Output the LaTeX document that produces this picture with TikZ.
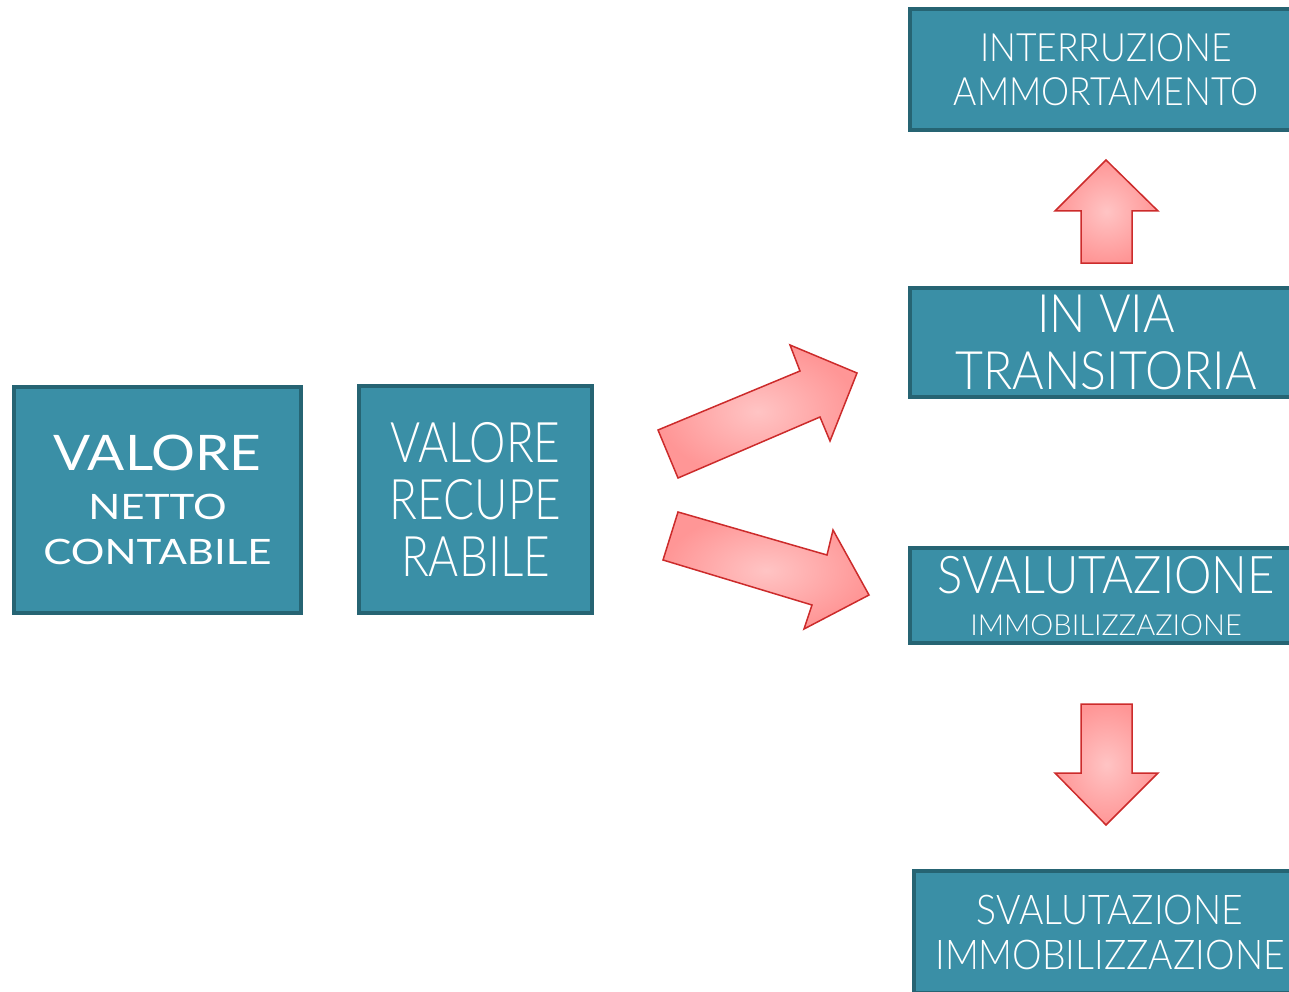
\documentclass[tikz,border=0pt]{standalone}
\usepackage{fontspec}
\setmainfont{Lato Light}[BoldFont=Lato]
\newfontfamily\fwide{Lato}[FakeStretch=1.12]
\newfontfamily\fwider{Lato}[FakeStretch=1.2]
\newfontfamily\fnarrow{Lato Light}[FakeStretch=0.82]
\newfontfamily\fright{Lato Light}[FakeStretch=0.91]
\newfontfamily\fplain{Lato Light}
\definecolor{tealfill}{RGB}{58,143,166}
\definecolor{tealdark}{RGB}{38,100,115}
\definecolor{pinkin}{RGB}{255,196,196}
\definecolor{pinkout}{RGB}{255,150,150}
\definecolor{arrowred}{RGB}{204,43,43}
\begin{document}
\begin{tikzpicture}[x=1pt,y=-1pt,
  tbox/.style={rectangle,draw=tealdark,line width=4pt,fill=tealfill,text=white,align=center,inner sep=0pt},
  barrow/.style={draw=arrowred,line width=1.5pt,inner color=pinkin,outer color=pinkout,line join=miter}]
\useasboundingbox (0,0) rectangle (1289,992);
\clip (0,0) rectangle (1289,992);
\node[tbox,minimum width=287pt,minimum height=226pt,font=\fontsize{35}{45}\selectfont\fwider] (vnc) at (157.5,500)
  {{\fontsize{49}{49}\selectfont\fwide VALORE}\\[4pt] NETTO\\ CONTABILE};
\node[tbox,minimum width=233pt,minimum height=227pt,font=\fontsize{56}{57}\selectfont\fnarrow] (vr) at (475.5,499.5)
  {VALORE\\ RECUPE\\ RABILE};
\node[tbox,minimum width=392pt,minimum height=121pt,font=\fontsize{39}{44}\selectfont\fright] (ia) at (1106,69.5)
  {INTERRUZIONE\\ AMMORTAMENTO};
\node[tbox,minimum width=392pt,minimum height=109pt,font=\fontsize{53}{57}\selectfont\fright] (vt) at (1106,342.5)
  {IN VIA\\ TRANSITORIA};
\node[tbox,minimum width=392pt,minimum height=95pt,font=\fontsize{29}{42}\selectfont\fplain] (si) at (1106,595.5)
  {{\fontsize{52}{52}\selectfont\fright SVALUTAZIONE}\\ IMMOBILIZZAZIONE};
\node[tbox,minimum width=392pt,minimum height=122pt,font=\fontsize{41}{45}\selectfont\fright] (si2) at (1110,932)
  {SVALUTAZIONE\\ IMMOBILIZZAZIONE};
% block arrows
\draw[barrow] (678,478) -- (658,430) -- (800,371) -- (790,345) -- (857,373) -- (830,441) -- (820,417) -- cycle;
\draw[barrow] (678,512) -- (663,560) -- (812,605) -- (804,629) -- (869,595) -- (833,530) -- (827,555) -- cycle;
\draw[barrow] (1081,263) -- (1081,211) -- (1055,211) -- (1106,160) -- (1158,211) -- (1132,211) -- (1132,263) -- cycle;
\draw[barrow] (1081,704) -- (1132,704) -- (1132,773) -- (1158,773) -- (1106,825) -- (1055,773) -- (1081,773) -- cycle;
\end{tikzpicture}
\end{document}
